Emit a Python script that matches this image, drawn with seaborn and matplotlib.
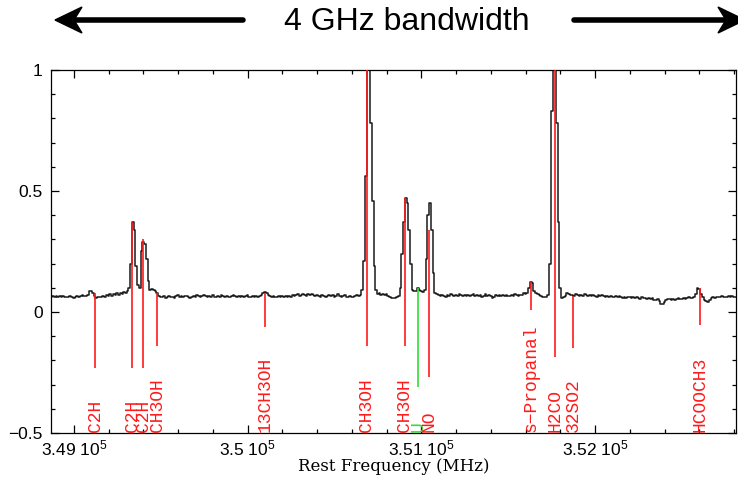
import numpy as np
import seaborn as sns
import matplotlib.pyplot as plt
from matplotlib.patches import Polygon
from matplotlib.lines import Line2D
from matplotlib.ticker import MultipleLocator

# spectrum channels (MHz), 10 MHz apart, intensities
freq_start = 348870
freq_step = 10
flux = [
    0.062, 0.066, 0.064, 0.068, 0.063, 0.065, 0.061, 0.066, 0.064, 0.060, 0.063, 0.067, 0.062, 0.059, 0.064, 0.066, 0.061, 0.067, 0.070, 0.065,
    0.068, 0.072, 0.085, 0.088, 0.080, 0.066, 0.058, 0.061, 0.064, 0.060, 0.066, 0.063, 0.069, 0.065, 0.073, 0.068, 0.075, 0.071, 0.078, 0.072,
    0.080, 0.075, 0.083, 0.078, 0.086, 0.100, 0.200, 0.370, 0.340, 0.190, 0.110, 0.100, 0.250, 0.290, 0.280, 0.220, 0.130, 0.090, 0.095, 0.090,
    0.085, 0.078, 0.068, 0.062, 0.060, 0.065, 0.058, 0.063, 0.066, 0.061, 0.064, 0.059, 0.066, 0.070, 0.063, 0.067, 0.061, 0.065, 0.068, 0.063,
    0.057, 0.064, 0.068, 0.062, 0.070, 0.066, 0.061, 0.067, 0.072, 0.065, 0.060, 0.066, 0.063, 0.069, 0.064, 0.061, 0.067, 0.063, 0.070, 0.066,
    0.062, 0.068, 0.064, 0.060, 0.066, 0.071, 0.065, 0.062, 0.068, 0.063, 0.067, 0.061, 0.065, 0.069, 0.064, 0.060, 0.066, 0.063, 0.068, 0.064,
    0.066, 0.070, 0.078, 0.084, 0.080, 0.071, 0.066, 0.062, 0.068, 0.064, 0.060, 0.066, 0.063, 0.068, 0.062, 0.065, 0.061, 0.067, 0.064, 0.069,
    0.065, 0.070, 0.074, 0.068, 0.072, 0.076, 0.071, 0.067, 0.073, 0.069, 0.075, 0.070, 0.066, 0.072, 0.068, 0.064, 0.070, 0.067, 0.063, 0.068,
    0.072, 0.066, 0.070, 0.064, 0.068, 0.073, 0.067, 0.062, 0.066, 0.070, 0.064, 0.061, 0.067, 0.063, 0.060, 0.066, 0.070, 0.065, 0.072, 0.090,
    0.210, 0.560, 1.450, 1.400, 0.780, 0.460, 0.190, 0.090, 0.075, 0.080, 0.072, 0.076, 0.070, 0.074, 0.066, 0.060, 0.057, 0.059, 0.056, 0.060,
    0.068, 0.100, 0.240, 0.370, 0.470, 0.450, 0.340, 0.200, 0.090, 0.085, 0.088, 0.100, 0.092, 0.085, 0.082, 0.090, 0.220, 0.400, 0.450, 0.340,
    0.160, 0.080, 0.075, 0.070, 0.066, 0.072, 0.068, 0.064, 0.070, 0.066, 0.073, 0.069, 0.065, 0.071, 0.067, 0.074, 0.070, 0.066, 0.072, 0.068,
    0.071, 0.065, 0.069, 0.074, 0.068, 0.072, 0.066, 0.070, 0.064, 0.068, 0.073, 0.067, 0.071, 0.065, 0.056, 0.063, 0.069, 0.066, 0.071, 0.067,
    0.070, 0.066, 0.072, 0.068, 0.065, 0.071, 0.067, 0.073, 0.069, 0.066, 0.072, 0.070, 0.078, 0.074, 0.080, 0.100, 0.125, 0.120, 0.085, 0.080,
    0.076, 0.072, 0.066, 0.062, 0.060, 0.064, 0.070, 0.200, 0.830, 1.450, 1.400, 0.780, 0.370, 0.100, 0.058, 0.062, 0.068, 0.080, 0.075, 0.070,
    0.072, 0.068, 0.074, 0.070, 0.066, 0.071, 0.067, 0.073, 0.069, 0.065, 0.070, 0.066, 0.072, 0.068, 0.064, 0.069, 0.065, 0.070, 0.066, 0.062,
    0.067, 0.063, 0.068, 0.064, 0.060, 0.065, 0.061, 0.066, 0.062, 0.058, 0.063, 0.059, 0.064, 0.060, 0.056, 0.061, 0.057, 0.062, 0.058, 0.055,
    0.060, 0.056, 0.058, 0.054, 0.057, 0.053, 0.056, 0.050, 0.048, 0.052, 0.045, 0.035, 0.032, 0.040, 0.048, 0.052, 0.055, 0.051, 0.054, 0.050,
    0.053, 0.057, 0.052, 0.055, 0.058, 0.054, 0.057, 0.060, 0.056, 0.059, 0.063, 0.075, 0.098, 0.095, 0.075, 0.060, 0.050, 0.045, 0.040, 0.050,
    0.058, 0.062, 0.059, 0.064, 0.060, 0.063, 0.066, 0.061, 0.064, 0.060, 0.065, 0.062, 0.066, 0.063, 0.064,
]
freq = freq_start + freq_step * np.arange(len(flux))

# line identifications
line_freq = [349123, 349338, 349399, 349480, 350103, 350687, 350905, 350981, 351043, 351634, 351769, 351874, 352604]
line_top = [0.08, 0.37, 0.30, 0.08, 0.08, 1.0, 0.47, 0.10, 0.34, 0.125, 1.0, 0.066, 0.10]
line_bottom = [-0.23, -0.23, -0.23, -0.14, -0.06, -0.14, -0.14, -0.31, -0.27, 0.01, -0.185, -0.15, -0.054]
line_name = ['C2H', 'C2H', 'C2H', 'CH3OH', '13CH3OH', 'CH3OH', 'CH3OH', 'U', 'NO',
             's\u2212Propanal', 'H2CO', '32SO2', 'HCOOCH3']
line_color = ['#ff1a1a'] * 7 + ['#33dd33'] + ['#ff1a1a'] * 5

xtick_pos = [349000, 350000, 351000, 352000]
xtick_lbl = ['3.49 10$^5$', '3.5 10$^5$', '3.51 10$^5$', '3.52 10$^5$']
ytick_pos = [-0.5, 0, 0.5, 1]
ytick_lbl = ['\u22120.5', '0', '0.5', '1']

sns.set_theme(style='ticks')
plt.rcParams['font.family'] = ['Liberation Sans', 'DejaVu Sans']
plt.rcParams['mathtext.default'] = 'regular'

fig = plt.figure(figsize=(7.38, 4.8), dpi=100)
ax = fig.add_axes([0.0691, 0.0979, 0.9282, 0.7563])

sns.lineplot(x=freq, y=flux, ax=ax, drawstyle='steps-mid', color='#1a1a1a', lw=1.1,
             estimator=None, zorder=2)
ax.vlines(line_freq, line_bottom, line_top, colors=line_color, lw=1.2, zorder=3)
for f, name, c in zip(line_freq, line_name, line_color):
    ax.text(f, -0.497, name, rotation=90, ha='center', va='bottom', color=c,
            fontsize=13, family=['Liberation Mono', 'DejaVu Sans Mono'], zorder=4)

ax.set_xlim(348869, 352811)
ax.set_ylim(-0.5, 1)
ax.set_xticks(xtick_pos, xtick_lbl)
ax.set_yticks(ytick_pos, ytick_lbl)
ax.xaxis.set_minor_locator(MultipleLocator(200))
ax.yaxis.set_minor_locator(MultipleLocator(0.1))
ax.tick_params(which='both', direction='in', top=True, right=True, colors='black',
               labelsize=12.5, width=0.9)
ax.tick_params(which='major', length=6)
ax.tick_params(which='minor', length=3)
ax.tick_params(axis='x', pad=4)
ax.tick_params(axis='y', pad=6)
for s in ax.spines.values():
    s.set_color('black')
    s.set_linewidth(0.9)
ax.set_xlabel('Rest Frequency (MHz)', fontsize=12, family='DejaVu Serif', labelpad=0, color='black')
ax.set_ylabel('')

# header: bandwidth arrows
fig.text(407 / 738, 1 - 22 / 480, '4 GHz bandwidth', ha='center', va='center',
         fontsize=23, color='black')
arrow_y = 1 - 20 / 480
fig.add_artist(Line2D([72 / 738, 243 / 738], [arrow_y, arrow_y], transform=fig.transFigure,
                      color='black', lw=4))
fig.add_artist(Line2D([574 / 738, 728 / 738], [arrow_y, arrow_y], transform=fig.transFigure,
                      color='black', lw=4))
head_l = [(55, 460), (82, 473), (74, 460), (82, 447)]
head_r = [(745, 460), (718, 473), (726, 460), (718, 447)]
for head in (head_l, head_r):
    fig.add_artist(Polygon([(x / 738, y / 480) for x, y in head], closed=True,
                           transform=fig.transFigure, color='black'))

fig.savefig('out.png', dpi=100)
